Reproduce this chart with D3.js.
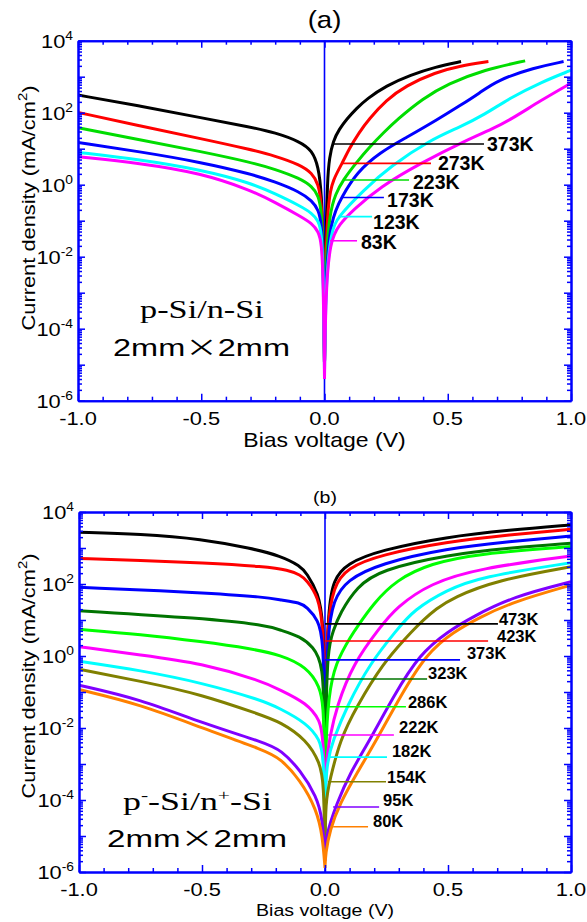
<!DOCTYPE html>
<html>
<head>
<meta charset="utf-8">
<script src="https://cdn.jsdelivr.net/npm/d3@7"></script>
<style>
  body { margin: 0; background: #fff; }
  text { font-family: "Liberation Sans", Arial, sans-serif; fill: #000; }
</style>
</head>
<body>
<div id="chart"></div>
<script>
// ---- data: [bias voltage V, current density mA/cm2] ----

// panel (a) p-Si/n-Si
const tempsA = ["373K", "273K", "223K", "173K", "123K", "83K"];
const colorsA = ["#000000", "#ff0000", "#00dd00", "#0000ff", "#00ffff", "#ff00ff"];

const a373 = [[-1, 309], [-0.75, 155], [-0.5, 72], [-0.3, 40], [-0.2, 28], [-0.1, 15.8], [-0.05, 8.9],
  [-0.025, 3.2], [-0.012, 0.63], [-0.005, 0.016], [0, 1e-5], [0.005, 0.016], [0.012, 1.6], [0.02, 5.6],
  [0.035, 16.6], [0.06, 35], [0.09, 66], [0.13, 132], [0.171, 240], [0.25, 562], [0.35, 1120], [0.45, 1860],
  [0.554, 2630]];
const a273 = [[-1, 102], [-0.75, 43], [-0.5, 19], [-0.3, 9.5], [-0.2, 6.3], [-0.1, 3.6], [-0.05, 2.1],
  [-0.025, 1.05], [-0.012, 0.32], [-0.005, 0.016], [0, 1e-5], [0.005, 0.01], [0.015, 0.4], [0.035, 1.4],
  [0.071, 3.8], [0.1, 10], [0.14, 28], [0.18, 66], [0.25, 224], [0.33, 562], [0.45, 1320], [0.55, 2000],
  [0.665, 2630]];
const a223 = [[-1, 38], [-0.75, 17.8], [-0.5, 8.3], [-0.3, 4.2], [-0.2, 2.7], [-0.1, 1.5], [-0.05, 0.89],
  [-0.025, 0.5], [-0.012, 0.2], [-0.005, 0.01], [0, 1e-5], [0.005, 6.3e-3], [0.02, 0.16], [0.045, 0.56],
  [0.075, 1.35], [0.13, 4.2], [0.185, 11.5], [0.24, 28], [0.293, 63], [0.4, 251], [0.5, 631], [0.65, 1580],
  [0.814, 2750]];
const a173 = [[-1, 14.8], [-0.75, 8.3], [-0.5, 4.2], [-0.3, 2.0], [-0.2, 1.2], [-0.1, 0.63], [-0.05, 0.355],
  [-0.025, 0.2], [-0.012, 0.089], [-0.005, 6.3e-3], [0, 1e-5], [0.005, 3.2e-3], [0.025, 0.11], [0.071, 0.47],
  [0.131, 2.2], [0.225, 7.9], [0.33, 20], [0.456, 63], [0.55, 158], [0.63, 355], [0.7, 794], [0.85, 1780],
  [0.97, 2630]];
const a123 = [[-1, 7.9], [-0.75, 5.0], [-0.5, 2.6], [-0.3, 1.12], [-0.2, 0.56], [-0.1, 0.26], [-0.05, 0.16],
  [-0.025, 0.1], [-0.012, 0.05], [-0.005, 4e-3], [0, 6.3e-6], [0.005, 1.6e-3], [0.025, 0.05], [0.055, 0.13],
  [0.159, 0.71], [0.266, 3.2], [0.428, 17.4], [0.55, 40], [0.65, 89], [0.75, 251], [0.88, 708], [1.0, 1510]];
const a83 = [[-1, 6.0], [-0.75, 4.0], [-0.5, 2.1], [-0.3, 0.71], [-0.2, 0.32], [-0.1, 0.135], [-0.05, 0.083],
  [-0.025, 0.05], [-0.012, 0.025], [-0.005, 2.5e-3], [0, 4e-6], [0.005, 1e-3], [0.022, 0.0275], [0.06, 0.079],
  [0.117, 0.2], [0.226, 0.87], [0.388, 3.9], [0.577, 17.4], [0.68, 35], [0.753, 63], [0.88, 224], [1.0, 661]];

// leader lines of the labels in (a): current density level, start / end voltage, label start voltage
const leadJA = [13.5, 3.9, 1.35, 0.44, 0.13, 0.0277];
const leadV0A = [0.034, 0.071, 0.075, 0.071, 0.055, 0.022];
const leadV1A = [0.647, 0.432, 0.343, 0.241, 0.193, 0.132];
const labVA = [0.659, 0.46, 0.359, 0.254, 0.197, 0.148];

// panel (b) p--Si/n+-Si
const tempsB = ["473K", "423K", "373K", "323K", "286K", "222K", "182K", "154K", "95K", "80K"];
const colorsB = ["#000000", "#ff0000", "#0000ff", "#007400", "#00ff00", "#ff00ff", "#00ffff", "#808000", "#8000ff", "#ff8000"];

const b473 = [[-1, 2750], [-0.75, 2450], [-0.5, 1780], [-0.3, 977], [-0.18, 603], [-0.1, 316], [-0.075, 200],
  [-0.027, 56], [-0.007, 10], [-0.002, 0.1], [0, 1e-5], [0.002, 0.1], [0.014, 23], [0.034, 129], [0.088, 372],
  [0.224, 871], [0.495, 2040], [0.75, 3160], [1.0, 4370]];
const b423 = [[-1, 513], [-0.75, 447], [-0.5, 389], [-0.24, 302], [-0.15, 245], [-0.1, 178], [-0.075, 129],
  [-0.027, 45], [-0.007, 6.5], [-0.002, 0.1], [0, 1e-5], [0.002, 0.1], [0.01, 7.9], [0.034, 85], [0.088, 275],
  [0.224, 646], [0.495, 1480], [0.75, 2340], [1.0, 3310]];
const b373 = [[-1, 81], [-0.5, 58], [-0.24, 43], [-0.18, 36], [-0.1, 30], [-0.075, 23], [-0.027, 10],
  [-0.007, 2.75], [-0.002, 0.03], [0, 1e-5], [0.002, 0.03], [0.01, 4.0], [0.034, 36], [0.088, 129],
  [0.224, 372], [0.495, 977], [0.75, 1510], [1.0, 2140]];
const b323 = [[-1, 18.2], [-0.5, 11.2], [-0.24, 7.2], [-0.18, 5.2], [-0.1, 3.5], [-0.049, 1.8], [-0.007, 0.63],
  [-0.002, 0.01], [0, 1e-5], [0.002, 0.01], [0.01, 1.6], [0.034, 5.2], [0.061, 15.5], [0.13, 85], [0.224, 245],
  [0.495, 646], [0.75, 1000], [1.0, 1350]];
const b286 = [[-1, 5.5], [-0.75, 4.0], [-0.5, 2.5], [-0.3, 1.6], [-0.18, 1.07], [-0.075, 0.5], [-0.02, 0.14],
  [-0.007, 0.04], [-0.002, 3e-3], [0, 1e-5], [0.002, 3e-3], [0.014, 0.074], [0.041, 0.63], [0.11, 4.0],
  [0.13, 6.3], [0.197, 29], [0.29, 129], [0.427, 372], [0.63, 708], [1.0, 1100]];
const b222 = [[-1, 1.82], [-0.75, 1.07], [-0.5, 0.63], [-0.26, 0.204], [-0.183, 0.115], [-0.074, 0.049],
  [-0.02, 0.0166], [-0.005, 5e-3], [0, 1e-5], [0.002, 1e-3], [0.02, 5.8e-3], [0.047, 0.039], [0.115, 0.63],
  [0.224, 6.3], [0.29, 22.4], [0.427, 105], [0.63, 275], [1.0, 603]];
const b182 = [[-1, 0.72], [-0.75, 0.4], [-0.5, 0.18], [-0.26, 0.06], [-0.183, 0.035], [-0.074, 0.0135],
  [-0.02, 4.7e-3], [-0.005, 1.6e-3], [0, 1e-5], [0.002, 1e-3], [0.034, 4.7e-3], [0.088, 0.039], [0.183, 0.63],
  [0.291, 5.2], [0.36, 19], [0.495, 68], [0.63, 158], [1.0, 389]];
const b154 = [[-1, 0.43], [-0.75, 0.2], [-0.5, 0.085], [-0.26, 0.023], [-0.183, 0.015], [-0.074, 4.7e-3],
  [-0.02, 1.05e-3], [-0.005, 3.2e-4], [0, 3e-6], [0.002, 1e-4], [0.02, 3.6e-4], [0.061, 4.7e-3], [0.128, 0.039],
  [0.236, 0.63], [0.331, 3.3], [0.358, 5.2], [0.4, 10], [0.45, 20], [0.52, 42], [0.7, 129], [1.0, 302]];
const b95 = [[-1, 0.155], [-0.75, 0.063], [-0.5, 0.0138], [-0.24, 3.8e-3], [-0.18, 2.45e-3], [-0.1, 6.8e-4],
  [-0.034, 1.23e-4], [-0.01, 3.2e-5], [0, 2e-6], [0.002, 1e-5], [0.048, 8.1e-5], [0.101, 5.5e-4], [0.183, 4.7e-3],
  [0.277, 0.074], [0.386, 1.17], [0.5, 4.8], [0.6, 12.3], [0.766, 45], [1.0, 115]];
const b80 = [[-1, 0.117], [-0.75, 0.045], [-0.5, 0.01], [-0.24, 2.3e-3], [-0.183, 1.45e-3], [-0.1, 3.6e-4],
  [-0.034, 5.4e-5], [-0.01, 1e-5], [0, 1.3e-6], [0.002, 3.2e-6], [0.02, 1.5e-5], [0.061, 8.1e-5], [0.129, 5.5e-4],
  [0.21, 4.7e-3], [0.305, 0.074], [0.413, 1.19], [0.522, 4.7], [0.63, 12], [0.765, 32], [1.0, 93]];

const leadJB = [7.8, 2.6, 0.78, 0.23, 0.039, 0.0064, 0.00155, 3.2e-4, 6.4e-5, 1.8e-5];
const leadV0B = [0, 0, 0, 0.012, 0.012, 0.012, 0.02, 0.012, 0.033, 0.033];
const leadV1B = [0.703, 0.663, 0.549, 0.415, 0.329, 0.28, 0.252, 0.248, 0.22, 0.175];
const labVB = [0.707, 0.699, 0.577, 0.419, 0.337, 0.301, 0.272, 0.252, 0.236, 0.195];

// axis ticks
const xMajor = [-1, -0.5, 0, 0.5, 1];
const xMinor = [-0.9, -0.8, -0.7, -0.6, -0.4, -0.3, -0.2, -0.1, 0.1, 0.2, 0.3, 0.4, 0.6, 0.7, 0.8, 0.9];
const xLabels = ["-1.0", "-0.5", "0.0", "0.5", "1.0"];
const yExp = [-6, -5, -4, -3, -2, -1, 0, 1, 2, 3, 4];
const yLabelExp = [-6, -4, -2, 0, 2, 4];

// ---- drawing ----
const W = 587, H = 922;
const AXIS = "#0000ff";
const SX = 1.15; // horizontal stretch of the sans text in the original

const svg = d3.select("#chart").append("svg")
  .attr("width", W)
  .attr("height", H);

function label(g, x, y, str, size, anchor, sx) {
  return g.append("text")
    .attr("transform", `translate(${x},${y}) scale(${sx || 1},1)`)
    .attr("text-anchor", anchor || "start")
    .attr("font-size", size)
    .text(str);
}

// stretch a text so that it spans the given width
function fitWidth(t, x, y, width) {
  const w = t.node().getBBox().width;
  t.attr("transform", `translate(${x},${y}) scale(${width / w},1)`);
}

function panel(o) {
  const x = d3.scaleLinear().domain([-1, 1]).range([o.l, o.r]);
  const y = d3.scaleLog().domain([1e-6, 1e4]).range([o.b, o.t]);
  const g = svg.append("g");

  svg.append("clipPath").attr("id", "clip" + o.id)
    .append("rect")
    .attr("x", o.l).attr("y", o.t)
    .attr("width", o.r - o.l).attr("height", o.b - o.t);

  // vertical line at zero bias
  g.append("line")
    .attr("x1", x(0)).attr("x2", x(0))
    .attr("y1", o.t).attr("y2", o.b)
    .attr("stroke", AXIS)
    .attr("stroke-width", 1.6);

  // curves: reverse and forward branch, each smoothed, meeting at 0 V
  const line = d3.line()
    .x(d => x(d[0]))
    .y(d => y(d[1]))
    .curve(d3.curveBasis);

  g.append("g")
    .attr("clip-path", `url(#clip${o.id})`)
    .selectAll("path")
    .data(o.series)
    .join("path")
    .attr("d", d => line(d.filter(p => p[0] <= 0)) + line(d.filter(p => p[0] >= 0)))
    .attr("fill", "none")
    .attr("stroke", (d, i) => o.colors[i])
    .attr("stroke-width", 3)
    .attr("stroke-linejoin", "round");

  // leader lines and labels
  o.temps.forEach((t, i) => {
    g.append("line")
      .attr("x1", x(o.v0[i])).attr("x2", x(o.v1[i]))
      .attr("y1", y(o.lj[i])).attr("y2", y(o.lj[i]))
      .attr("stroke", o.colors[i])
      .attr("stroke-width", 1.6);
    label(g, x(o.lv[i]), y(o.lj[i]) + o.ldy[i], t, o.fs)
      .attr("font-weight", "bold");
  });

  // axes, ticks pointing inwards
  const style = s => {
    s.selectAll("text").remove();
    s.select(".domain").attr("stroke", AXIS).attr("stroke-width", 2);
    s.selectAll(".tick line").attr("stroke", AXIS).attr("stroke-width", 1.5);
  };
  const add = (axis, tx, ty) => g.append("g")
    .attr("transform", `translate(${tx},${ty})`)
    .call(axis)
    .call(style);

  const yMaj = yExp.map(e => Math.pow(10, e));
  const yMin = [];
  yExp.slice(0, -1).forEach(e => d3.range(2, 10).forEach(k => yMin.push(k * Math.pow(10, e))));

  add(d3.axisBottom(x).tickValues(xMajor).tickSize(-7).tickSizeOuter(0), 0, o.b);
  add(d3.axisBottom(x).tickValues(xMinor).tickSize(-4).tickSizeOuter(0), 0, o.b);
  add(d3.axisTop(x).tickValues(xMajor).tickSize(-7).tickSizeOuter(0), 0, o.t);
  add(d3.axisTop(x).tickValues(xMinor).tickSize(-4).tickSizeOuter(0), 0, o.t);
  add(d3.axisLeft(y).tickValues(yMaj).tickSize(-7).tickSizeOuter(0), o.l, 0);
  add(d3.axisLeft(y).tickValues(yMin).tickSize(-4).tickSizeOuter(0), o.l, 0);
  add(d3.axisRight(y).tickValues(yMaj).tickSize(-7).tickSizeOuter(0), o.r, 0);
  add(d3.axisRight(y).tickValues(yMin).tickSize(-4).tickSizeOuter(0), o.r, 0);

  // tick labels
  xMajor.forEach((v, i) => label(g, x(v), o.b + 24, xLabels[i], 19, "middle", SX));
  yLabelExp.forEach(e => {
    const t = label(g, o.l - 5, y(Math.pow(10, e)) + 7, "", 19, "end", SX);
    t.append("tspan").text("10");
    t.append("tspan").attr("dy", -8).attr("font-size", 12).text(e);
  });

  // axis titles
  label(g, x(0), o.xTitleY, "Bias voltage (V)", o.xTitleSize, "middle", SX);
  const yt = g.append("text")
    .attr("transform", `translate(35,${o.yTitleC}) rotate(-90) scale(${SX},1)`)
    .attr("text-anchor", "middle")
    .attr("font-size", 19);
  yt.append("tspan").text("Current density (mA/cm");
  yt.append("tspan").attr("dy", -8).attr("font-size", 13).text("2");
  yt.append("tspan").attr("dy", 8).text(")");

  label(g, x(0), o.titleY, o.title, o.titleSize, "middle", SX);
  return g;
}

const gA = panel({
  id: "a", l: 78, r: 571, t: 40.7, b: 400.7,
  series: [a373, a273, a223, a173, a123, a83], colors: colorsA, temps: tempsA,
  lj: leadJA, v0: leadV0A, v1: leadV1A, lv: labVA, ldy: [6.5, 7, 8.5, 9.5, 12, 8], fs: 19.5,
  xTitleY: 447, xTitleSize: 20, yTitleC: 208, title: "(a)", titleY: 28, titleSize: 24
});

const gB = panel({
  id: "b", l: 79, r: 571, t: 512, b: 872,
  series: [b473, b423, b373, b323, b286, b222, b182, b154, b95, b80], colors: colorsB, temps: tempsB,
  lj: leadJB, v0: leadV0B, v1: leadV1B, lv: labVB, ldy: [1, 1, -1, 0, 1, -2, 0, 1, -1, 0], fs: 16.5,
  xTitleY: 916, xTitleSize: 17, yTitleC: 676, title: "(b)", titleY: 503, titleSize: 17
});

// sample annotations
const serif = '"Liberation Serif", "Times New Roman", serif';

const s1 = gA.append("text").style("font-family", serif).attr("font-size", 25).text("p-Si/n-Si");
fitWidth(s1, 140, 318, 124);
const d1 = gA.append("text").attr("font-size", 24);
d1.append("tspan").text("2mm");
d1.append("tspan").attr("font-family", '"Noto Sans CJK SC"').text("×");
d1.append("tspan").text("2mm");
fitWidth(d1, 113, 356, 177);

const s2 = gB.append("text").style("font-family", serif).attr("font-size", 25);
s2.append("tspan").text("p");
s2.append("tspan").attr("dy", -10).attr("font-size", 15).text("-");
s2.append("tspan").attr("dy", 10).text("-Si/n");
s2.append("tspan").attr("dy", -10).attr("font-size", 15).text("+");
s2.append("tspan").attr("dy", 10).text("-Si");
fitWidth(s2, 123, 810, 149);
const d2 = gB.append("text").attr("font-size", 24);
d2.append("tspan").text("2mm");
d2.append("tspan").attr("font-family", '"Noto Sans CJK SC"').text("×");
d2.append("tspan").text("2mm");
fitWidth(d2, 107, 847, 180);
</script>
</body>
</html>
